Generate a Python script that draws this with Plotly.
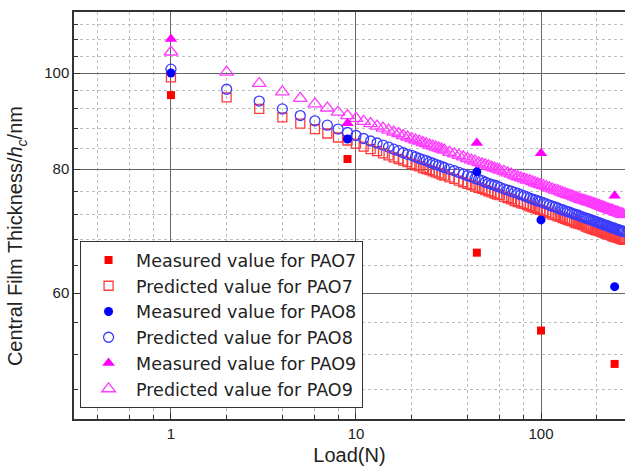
import plotly.graph_objects as go

# ---- data ----
meas_load = [1, 9, 45, 100, 250]
meas_pao7 = [95.0, 81.9, 65.9, 55.0, 50.9]
meas_pao8 = [100.0, 85.8, 79.5, 71.1, 60.9]
meas_pao9 = [108.2, 89.0, 85.0, 83.0, 75.2]

pred_load = [1, 2, 3, 4, 5, 6, 7, 8, 9, 10, 11, 12, 13, 14, 15, 16, 17, 18, 19, 20,
             21, 22, 23, 24, 25, 26, 27, 28, 29, 30, 32, 34, 36, 38, 40, 42, 44, 46, 48, 50,
             52, 54, 56, 58, 60, 63, 66, 69, 72, 75, 78, 81, 84, 87, 90, 93, 96, 99,
             103, 107, 111, 115, 119, 123, 127, 131, 135, 139, 143, 147, 151, 155, 159,
             163, 167, 171, 175, 179, 183, 187, 191, 195, 199, 203, 207, 211, 215, 219,
             223, 227, 231, 235, 239, 243, 247, 251, 255, 259, 263, 267, 271, 275, 279]
pred_pao7 = [99.0, 94.5, 92.0, 90.2, 88.9, 87.8, 86.9, 86.1, 85.5, 84.9, 84.3, 83.8, 83.4, 83.0,
             82.6, 82.2, 81.9, 81.6, 81.3, 81.0, 80.7, 80.5, 80.2, 80.0, 79.8, 79.6, 79.4, 79.2,
             79.0, 78.8, 78.5, 78.2, 77.9, 77.6, 77.3, 77.1, 76.8, 76.6, 76.4, 76.2, 76.0, 75.8,
             75.6, 75.4, 75.3, 75.0, 74.8, 74.6, 74.3, 74.1, 73.9, 73.8, 73.6, 73.4, 73.2, 73.1,
             72.9, 72.8, 72.6, 72.4, 72.2, 72.0, 71.9, 71.7, 71.6, 71.4, 71.3, 71.1, 71.0, 70.9,
             70.7, 70.6, 70.5, 70.4, 70.3, 70.2, 70.0, 69.9, 69.8, 69.7, 69.6, 69.5, 69.4, 69.4,
             69.3, 69.2, 69.1, 69.0, 68.9, 68.8, 68.8, 68.7, 68.6, 68.5, 68.4, 68.4, 68.3, 68.2,
             68.2, 68.1, 68.0, 68.0, 67.9]
pred_pao8 = [100.9, 96.3, 93.7, 92.0, 90.6, 89.5, 88.6, 87.8, 87.1, 86.5, 85.9, 85.4, 85.0, 84.6,
             84.2, 83.8, 83.5, 83.1, 82.8, 82.6, 82.3, 82.0, 81.8, 81.6, 81.3, 81.1, 80.9, 80.7,
             80.5, 80.3, 80.0, 79.7, 79.4, 79.1, 78.8, 78.6, 78.3, 78.1, 77.9, 77.6, 77.4, 77.2,
             77.1, 76.9, 76.7, 76.4, 76.2, 76.0, 75.8, 75.6, 75.4, 75.2, 75.0, 74.8, 74.6, 74.5,
             74.3, 74.2, 74.0, 73.8, 73.6, 73.4, 73.3, 73.1, 72.9, 72.8, 72.6, 72.5, 72.4, 72.2,
             72.1, 72.0, 71.9, 71.7, 71.6, 71.5, 71.4, 71.3, 71.2, 71.1, 71.0, 70.9, 70.8, 70.7,
             70.6, 70.5, 70.4, 70.3, 70.2, 70.2, 70.1, 70.0, 69.9, 69.8, 69.8, 69.7, 69.6, 69.5,
             69.5, 69.4, 69.3, 69.3, 69.2]
pred_pao9 = [105.0, 100.2, 97.6, 95.7, 94.3, 93.1, 92.2, 91.3, 90.6, 90.0, 89.4, 88.9, 88.4, 88.0,
             87.6, 87.2, 86.9, 86.5, 86.2, 85.9, 85.6, 85.4, 85.1, 84.9, 84.6, 84.4, 84.2, 84.0,
             83.8, 83.6, 83.2, 82.9, 82.6, 82.3, 82.0, 81.7, 81.5, 81.2, 81.0, 80.8, 80.6, 80.4,
             80.2, 80.0, 79.8, 79.6, 79.3, 79.1, 78.8, 78.6, 78.4, 78.2, 78.0, 77.9, 77.7, 77.5,
             77.3, 77.2, 77.0, 76.8, 76.6, 76.4, 76.2, 76.1, 75.9, 75.7, 75.6, 75.4, 75.3, 75.2,
             75.0, 74.9, 74.8, 74.6, 74.5, 74.4, 74.3, 74.2, 74.1, 74.0, 73.9, 73.8, 73.7, 73.6,
             73.5, 73.4, 73.3, 73.2, 73.1, 73.0, 72.9, 72.8, 72.8, 72.7, 72.6, 72.5, 72.4, 72.4,
             72.3, 72.2, 72.1, 72.1, 72.0]

x_ticks = [1, 10, 100]
x_ticktext = ["1", "10", "100"]
x_minor = [0.4, 0.6, 0.8, 2, 4, 6, 8, 20, 40, 60, 80, 200]
y_ticks = [60, 80, 100]
y_minor = [48, 52, 56, 64, 68, 72, 76, 84, 88, 92, 96, 104, 108, 112]

names = ["Measured value for PAO7", "Predicted value for PAO7",
         "Measured value for PAO8", "Predicted value for PAO8",
         "Measured value for PAO9", "Predicted value for PAO9"]
y_title = "Central Film Thickness/<i>h</i><sub><i>c</i></sub>/nm"
x_title = "Load(N)"

fig = go.Figure()

# predicted (drawn first)
fig.add_trace(go.Scatter(x=pred_load, y=pred_pao7, mode="markers", name=names[1], legendrank=2,
                         marker=dict(symbol="square-open", size=9, color="#ff3b3b", line=dict(width=1.3))))
fig.add_trace(go.Scatter(x=pred_load, y=pred_pao8, mode="markers", name=names[3], legendrank=4,
                         marker=dict(symbol="circle-open", size=10, color="#3b3bff", line=dict(width=1.3))))
fig.add_trace(go.Scatter(x=pred_load, y=pred_pao9, mode="markers", name=names[5], legendrank=6,
                         marker=dict(symbol="triangle-up-open", size=12, color="#ff3bff", line=dict(width=1.3))))
# measured
fig.add_trace(go.Scatter(x=meas_load, y=meas_pao7, mode="markers", name=names[0], legendrank=1,
                         marker=dict(symbol="square", size=8, color="#ff0000")))
fig.add_trace(go.Scatter(x=meas_load, y=meas_pao8, mode="markers", name=names[2], legendrank=3,
                         marker=dict(symbol="circle", size=9, color="#0000ff")))
fig.add_trace(go.Scatter(x=meas_load, y=meas_pao9, mode="markers", name=names[4], legendrank=5,
                         marker=dict(symbol="triangle-up", size=11, color="#ff00ff")))

font_family = "Liberation Sans, Arial, sans-serif"

fig.update_layout(
    width=625, height=469,
    margin=dict(l=74, r=0, t=12, b=50),
    paper_bgcolor="white", plot_bgcolor="white",
    font=dict(family=font_family, size=15, color="#222"),
    showlegend=True,
    legend=dict(x=0.011, y=0.437, xanchor="left", yanchor="top",
                bgcolor="white", bordercolor="#333", borderwidth=1,
                font=dict(family="DejaVu Sans, sans-serif", size=17.5, color="#222"), tracegroupgap=0,
                itemwidth=45, itemsizing="trace"),
    xaxis=dict(
        type="log", range=[-0.524, 2.454],
        tickmode="array", tickvals=x_ticks, ticktext=x_ticktext,
        ticks="inside", ticklen=6, tickcolor="#333", tickwidth=1,
        showline=True, linecolor="#333", linewidth=1.5, mirror=True,
        showgrid=True, gridcolor="#666", gridwidth=1,
        zeroline=False,
        minor=dict(tickmode="array", tickvals=x_minor, ticks="inside", ticklen=4,
                   tickcolor="#333", showgrid=True, gridcolor="#bdbdbd", griddash="dot", gridwidth=1),
        title=dict(text=x_title, font=dict(size=20), standoff=7),
        tickfont=dict(size=15),
    ),
    yaxis=dict(
        type="log", range=[1.6512, 2.0615],
        tickmode="array", tickvals=y_ticks,
        ticks="inside", ticklen=6, tickcolor="#333", tickwidth=1,
        showline=True, linecolor="#333", linewidth=1.5,
        showgrid=True, gridcolor="#666", gridwidth=1,
        zeroline=False,
        minor=dict(tickmode="array", tickvals=y_minor, ticks="inside", ticklen=4,
                   tickcolor="#333", showgrid=True, gridcolor="#bdbdbd", griddash="dot", gridwidth=1),
        tickfont=dict(size=15),
    ),
    annotations=[dict(text=y_title, textangle=-90, xref="paper", yref="paper",
                      x=-0.103, y=0.45, xanchor="center", yanchor="middle",
                      showarrow=False, font=dict(size=20, color="#222"))],
)

for i, tr in enumerate(fig.data):
    tr.legendgroup = "g%d" % i

fig.write_html("out.html")
